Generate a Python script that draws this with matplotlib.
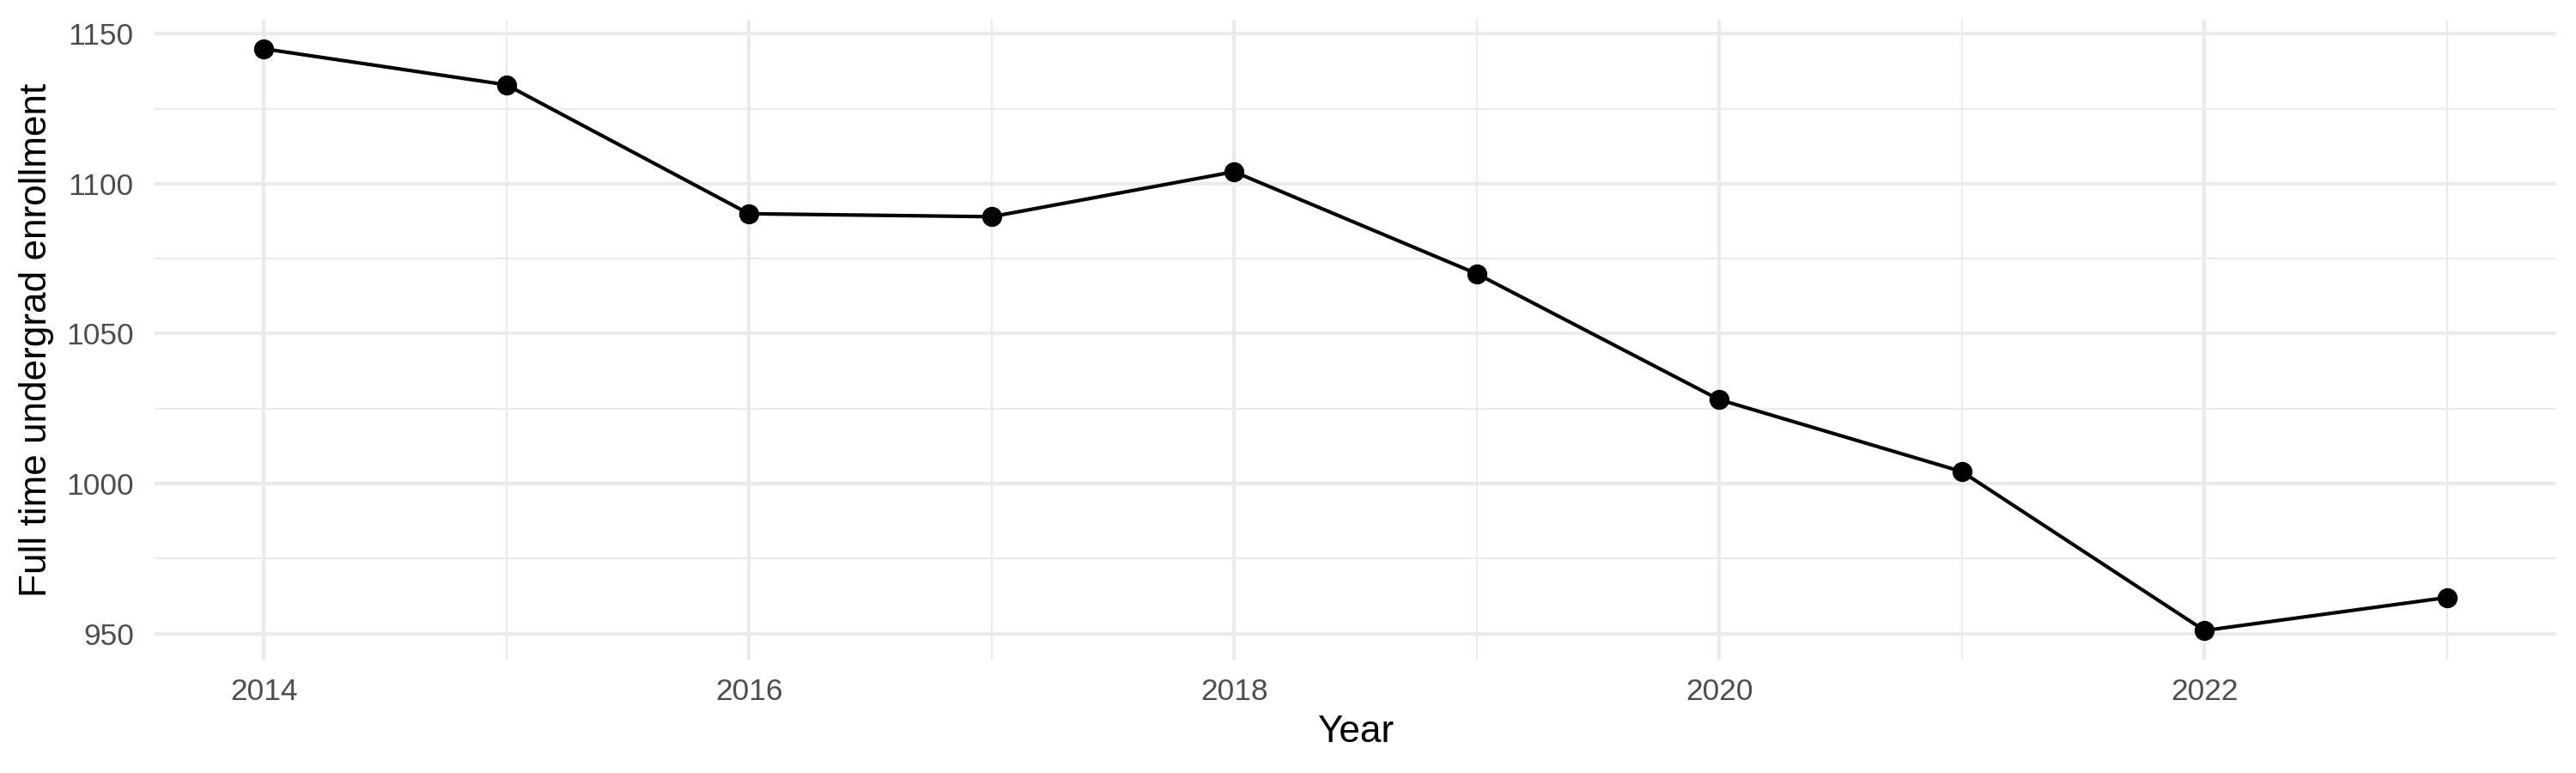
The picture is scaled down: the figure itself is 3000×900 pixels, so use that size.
import matplotlib
matplotlib.use("Agg")
import matplotlib.pyplot as plt
import numpy as np

years = [2014, 2015, 2016, 2017, 2018, 2019, 2020, 2021, 2022, 2023]
enrollment = [1145, 1133, 1090, 1089, 1104, 1070, 1028, 1004, 951, 962]

x_major = [2014, 2016, 2018, 2020, 2022]
x_minor = [2015, 2017, 2019, 2021, 2023]
y_major = [950, 1000, 1050, 1100, 1150]
y_minor = [975, 1025, 1075, 1125]

plt.rcParams['font.family'] = ['Liberation Sans', 'DejaVu Sans']

fig = plt.figure(figsize=(10, 3), dpi=300)
ax = fig.add_axes([0.06, 0.1467, 0.9323, 0.8278])

# ggplot-style expansion (5% each side)
xr = max(years) - min(years)
yr = max(enrollment) - min(enrollment)
ax.set_xlim(min(years) - 0.05 * xr, max(years) + 0.05 * xr)
ax.set_ylim(min(enrollment) - 0.05 * yr, max(enrollment) + 0.05 * yr)

ax.set_xticks(x_major)
ax.set_xticks(x_minor, minor=True)
ax.set_yticks(y_major)
ax.set_yticks(y_minor, minor=True)

ax.grid(True, which='major', color='#EBEBEB', linewidth=1.0, zorder=0)
ax.grid(True, which='minor', color='#EBEBEB', linewidth=0.5, zorder=0)
ax.set_axisbelow(True)

for s in ax.spines.values():
    s.set_visible(False)

ax.tick_params(which='both', length=0)
ax.tick_params(axis='x', which='major', pad=5, labelsize=8.5, labelcolor='#4D4D4D')
ax.tick_params(axis='y', which='major', pad=5.8, labelsize=8.5, labelcolor='#4D4D4D')

ax.plot(years, enrollment, color='black', linewidth=1.0, marker='o',
        markersize=4.6, zorder=3)

ax.set_xlabel('Year', fontsize=10.6, color='black')
ax.set_ylabel('Full time undergrad enrollment', fontsize=10.6, color='black')
ax.xaxis.set_label_coords(0.5, -0.1128)
ax.xaxis.label.set_verticalalignment('center')
ax.yaxis.set_label_coords(-0.049, 0.5)
ax.yaxis.label.set_verticalalignment('center')

fig.savefig('out.png', dpi=300, facecolor='white')
